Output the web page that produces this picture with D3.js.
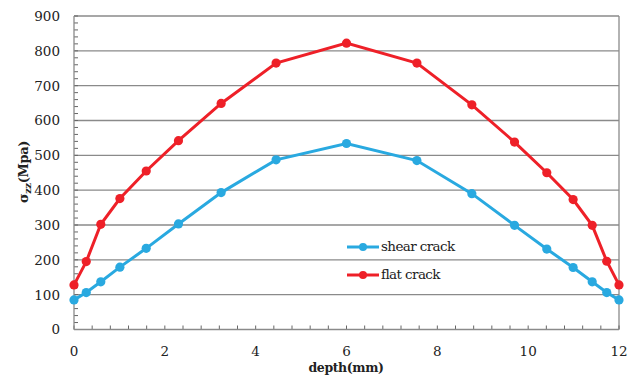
<!DOCTYPE html>
<html>
<head>
<meta charset="utf-8">
<script src="https://cdn.jsdelivr.net/npm/d3@7"></script>
<style>
  body { margin: 0; background: #fff; }
  text { font-family: "DejaVu Serif", "Liberation Serif", serif; fill: #222; }
</style>
</head>
<body>
<div id="chart"></div>
<script>
// depth positions (mm)
var depth = [0, 0.27, 0.59, 1.01, 1.59, 2.3, 3.24, 4.45, 6, 7.55, 8.76, 9.7, 10.41, 10.99, 11.41, 11.73, 12];
// sigma zz (MPa)
var shear = [85, 106, 137, 179, 233, 303, 393, 487, 534, 485, 390, 299, 231, 178, 137, 106, 85];
var flat = [128, 195, 302, 376, 455, 542, 649, 765, 822, 765, 645, 538, 450, 373, 299, 196, 128];
var xTicks = [0, 2, 4, 6, 8, 10, 12];
var yTicks = [0, 100, 200, 300, 400, 500, 600, 700, 800, 900];

var width = 637, height = 383;
var margin = { top: 16, left: 74, right: 18, bottom: 53.5 };
var w = width - margin.left - margin.right,
    h = height - margin.top - margin.bottom;

var svg = d3.select("#chart")
    .append("svg")
    .attr("width", width)
    .attr("height", height);

var g = svg.append("g")
    .attr("transform", "translate(" + margin.left + "," + margin.top + ")");

var x = d3.scaleLinear().domain([0, 12]).range([0, w]);
var y = d3.scaleLinear().domain([0, 900]).range([h, 0]);

// gridlines
g.selectAll(".grid")
    .data(yTicks.slice(1))
    .enter().append("line")
    .attr("x1", 0).attr("x2", w)
    .attr("y1", d => y(d)).attr("y2", d => y(d))
    .attr("stroke", "#8a8a8a").attr("stroke-width", 1.3);

// right border
g.append("line")
    .attr("x1", w).attr("x2", w).attr("y1", 0).attr("y2", h)
    .attr("stroke", "#8a8a8a").attr("stroke-width", 1.3);

// minor ticks, pointing inward
var yMinor = d3.range(0, 901, 20);
g.selectAll(".ytick")
    .data(yMinor)
    .enter().append("line")
    .attr("x1", 0).attr("x2", 4)
    .attr("y1", d => y(d)).attr("y2", d => y(d))
    .attr("stroke", "#666").attr("stroke-width", 1);

var xMinor = d3.range(0, 31).map(i => i * 0.4);
g.selectAll(".xtick")
    .data(xMinor)
    .enter().append("line")
    .attr("x1", d => x(d)).attr("x2", d => x(d))
    .attr("y1", h).attr("y2", h - 4)
    .attr("stroke", "#666").attr("stroke-width", 1);

// axis lines
g.append("line").attr("x1", 0).attr("x2", 0).attr("y1", 0).attr("y2", h)
    .attr("stroke", "#8a8a8a").attr("stroke-width", 1.3);
g.append("line").attr("x1", 0).attr("x2", w).attr("y1", h).attr("y2", h)
    .attr("stroke", "#8a8a8a").attr("stroke-width", 1.3);

// tick labels
g.selectAll(".ylab")
    .data(yTicks)
    .enter().append("text")
    .attr("x", -14).attr("y", d => y(d))
    .attr("dy", "0.36em")
    .attr("text-anchor", "end")
    .style("font-size", "13.5px")
    .text(d => d);

g.selectAll(".xlab")
    .data(xTicks)
    .enter().append("text")
    .attr("x", d => x(d)).attr("y", h + 26)
    .attr("text-anchor", "middle")
    .style("font-size", "13.5px")
    .text(d => d);

// axis titles
svg.append("text")
    .attr("x", 346).attr("y", 372)
    .attr("text-anchor", "middle")
    .style("font-size", "12.5px").style("font-weight", "bold")
    .style("letter-spacing", "-0.4px")
    .text("depth(mm)");

var yt = svg.append("text")
    .attr("transform", "translate(28,172) rotate(-90)")
    .attr("text-anchor", "middle")
    .style("font-size", "13px").style("font-weight", "bold")
    .style("letter-spacing", "-0.4px");
yt.append("tspan").text("σ");
yt.append("tspan").attr("dy", 3).style("font-size", "10px").text("zz");
yt.append("tspan").attr("dy", -3).text("(Mpa)");

// series
var series = [
    { name: "shear crack", values: shear, color: "#29a9e0" },
    { name: "flat crack", values: flat, color: "#ee2028" }
];

var line = d3.line()
    .x((d, i) => x(depth[i]))
    .y(d => y(d));

series.forEach(function (s) {
    g.append("path")
        .datum(s.values)
        .attr("d", line)
        .attr("fill", "none")
        .attr("stroke", s.color)
        .attr("stroke-width", 3);
    g.selectAll(null)
        .data(s.values)
        .enter().append("circle")
        .attr("cx", (d, i) => x(depth[i]))
        .attr("cy", d => y(d))
        .attr("r", 4.6)
        .attr("fill", s.color);
});

// legend
var legend = svg.append("g").attr("transform", "translate(347,247)");
series.forEach(function (s, i) {
    var row = legend.append("g").attr("transform", "translate(0," + (i * 28) + ")");
    row.append("line").attr("x1", 0).attr("x2", 32).attr("y1", 0).attr("y2", 0)
        .attr("stroke", s.color).attr("stroke-width", 3);
    row.append("circle").attr("cx", 16).attr("cy", 0).attr("r", 4).attr("fill", s.color);
    row.append("text").attr("x", 34).attr("y", 0).attr("dy", "0.33em")
        .style("font-size", "13.5px").style("letter-spacing", "-0.6px")
        .text(s.name);
});
</script>
</body>
</html>
